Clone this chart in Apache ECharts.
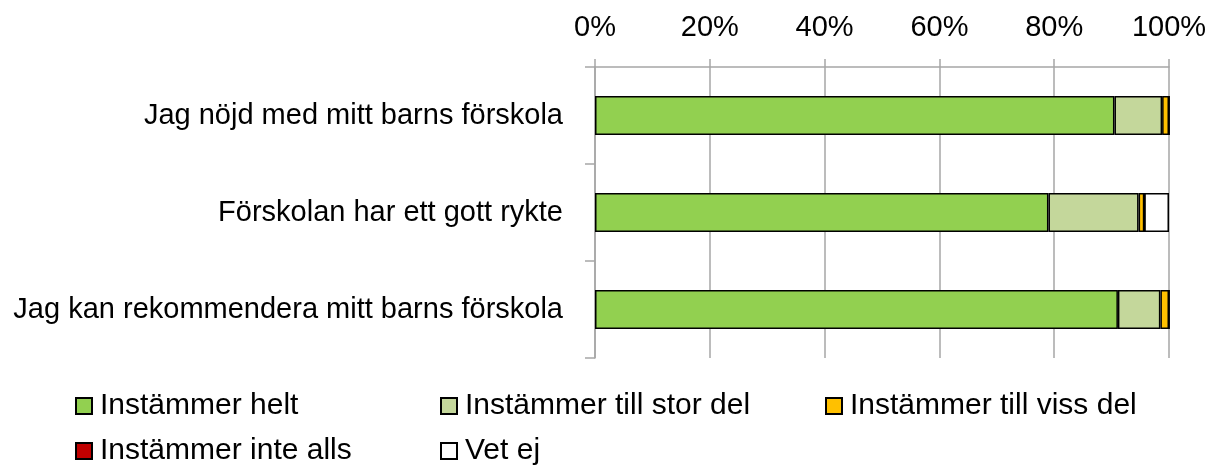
<!DOCTYPE html>
<html lang="sv">
    <head>
        <meta charset="utf-8">
        <title>Förskola</title>
        <script src="https://cdn.jsdelivr.net/npm/echarts@6/dist/echarts.min.js"></script>
        <style>
            html, body { margin: 0; padding: 0; background: #fff; }
            #chart { width: 1215px; height: 466px; }
        </style>
    </head>
    <body>
        <div id="chart"></div>
        <script>
            // frågor, uppifrån och ned
            var questions = ['Jag nöjd med mitt barns förskola', 'Förskolan har ett gott rykte', 'Jag kan rekommendera mitt barns förskola'];
            var seriesNames = ['Instämmer helt', 'Instämmer till stor del', 'Instämmer till viss del', 'Instämmer inte alls', 'Vet ej'];
            var helt = [90.5, 79.0, 91.1];
            var storDel = [8.3, 15.7, 7.4];
            var vissDel = [1.2, 1.0, 1.5];
            var inteAlls = [0, 0, 0];
            var vetEj = [0, 4.3, 0];
            var colors = ['#92D050', '#C4D79B', '#FFC000', '#C00000', '#FFFFFF'];

            var values = [helt, storDel, vissDel, inteAlls, vetEj];
            var font = 'Liberation Sans';
            var fontSize = 29;

            // legendens placering: [vänster, topp] per serie
            var legendPos = [[75, 391], [440, 391], [825, 391], [75, 436], [440, 436]];

            var myChart = echarts.init(document.querySelector('#chart'));

            myChart.setOption({
                animation: false,
                color: colors,
                grid: {
                    left: 595,
                    right: 46,
                    top: 67,
                    bottom: 108
                },
                legend: seriesNames.map(function(name, i) {
                    return {
                        left: legendPos[i][0],
                        top: legendPos[i][1],
                        padding: 0,
                        itemWidth: 16,
                        itemHeight: 16,
                        icon: 'rect',
                        data: [name],
                        selectedMode: false,
                        textStyle: { fontFamily: font, fontSize: 30, color: '#000', padding: [0, 0, 0, 3] }
                    };
                }),
                xAxis: {
                    type: 'value',
                    position: 'top',
                    min: 0,
                    max: 100,
                    interval: 20,
                    axisLine: { show: true, lineStyle: { color: '#a6a6a6', width: 1.5 } },
                    axisTick: { show: true, length: 8, lineStyle: { color: '#a6a6a6', width: 1.5 } },
                    splitLine: { lineStyle: { color: '#a6a6a6', width: 1.5 } },
                    axisLabel: {
                        formatter: '{value}%',
                        fontFamily: font,
                        fontSize: fontSize,
                        color: '#000',
                        margin: 25
                    }
                },
                yAxis: {
                    type: 'category',
                    inverse: true,
                    data: questions,
                    axisLine: { show: true, lineStyle: { color: '#a6a6a6', width: 1.5 } },
                    axisTick: { show: true, length: 10, lineStyle: { color: '#a6a6a6', width: 1.5 } },
                    axisLabel: {
                        fontFamily: font,
                        fontSize: fontSize,
                        color: '#000',
                        margin: 32,
                        padding: [4, 0, 0, 0]
                    }
                },
                series: seriesNames.map(function(name, i) {
                    return {
                        name: name,
                        type: 'bar',
                        stack: 'total',
                        barWidth: 39,
                        data: values[i],
                        itemStyle: { color: colors[i], borderColor: '#000', borderWidth: 1.5 }
                    };
                })
            });
        </script>
    </body>
</html>
